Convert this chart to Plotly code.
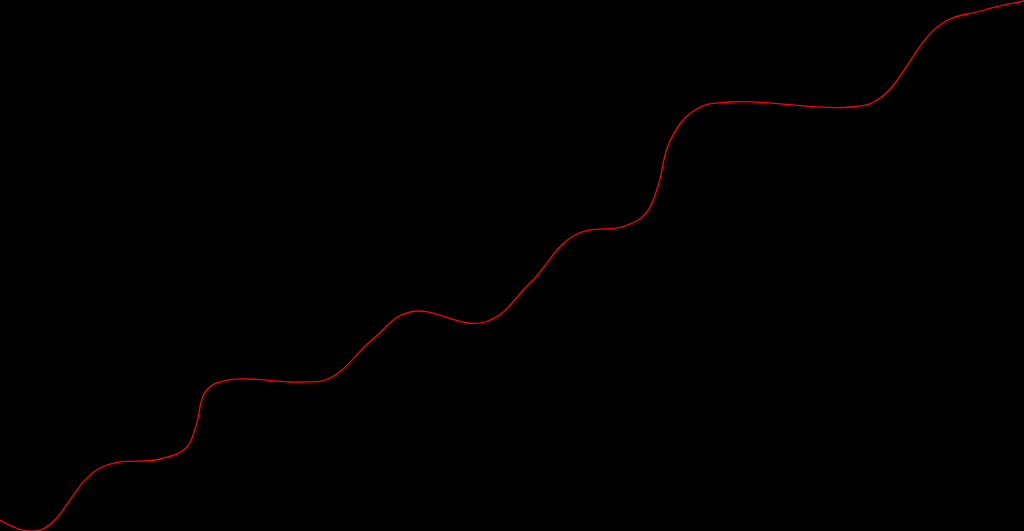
import plotly.graph_objects as go

# values (x along the run, y level)
x_vals = [0, 40, 100, 160, 186, 196, 206, 228, 300, 330, 372, 410, 485, 530, 575,
          625, 646, 658, 670, 695, 730, 850, 880, 940, 980, 1024]
y_vals = [11, 1, 63, 72, 83, 105, 140, 151, 149, 153, 191, 219, 209, 248, 296,
          305, 318, 345, 390, 421, 429, 424, 433, 506, 520, 530]

fig = go.Figure()
fig.add_trace(go.Scatter(
    x=x_vals, y=y_vals,
    mode='lines',
    line=dict(color='red', width=1.3, shape='spline', smoothing=1.2),
    hoverinfo='skip'
))

fig.update_layout(
    width=1024,
    height=531,
    paper_bgcolor='black',
    plot_bgcolor='black',
    margin=dict(l=0, r=0, t=0, b=0),
    showlegend=False,
    xaxis=dict(visible=False, range=[0, 1024]),
    yaxis=dict(visible=False, range=[0, 531])
)

fig.write_html("out.html",
               config={'displayModeBar': False},
               post_script="document.body.style.margin='0';document.body.style.background='black';")
